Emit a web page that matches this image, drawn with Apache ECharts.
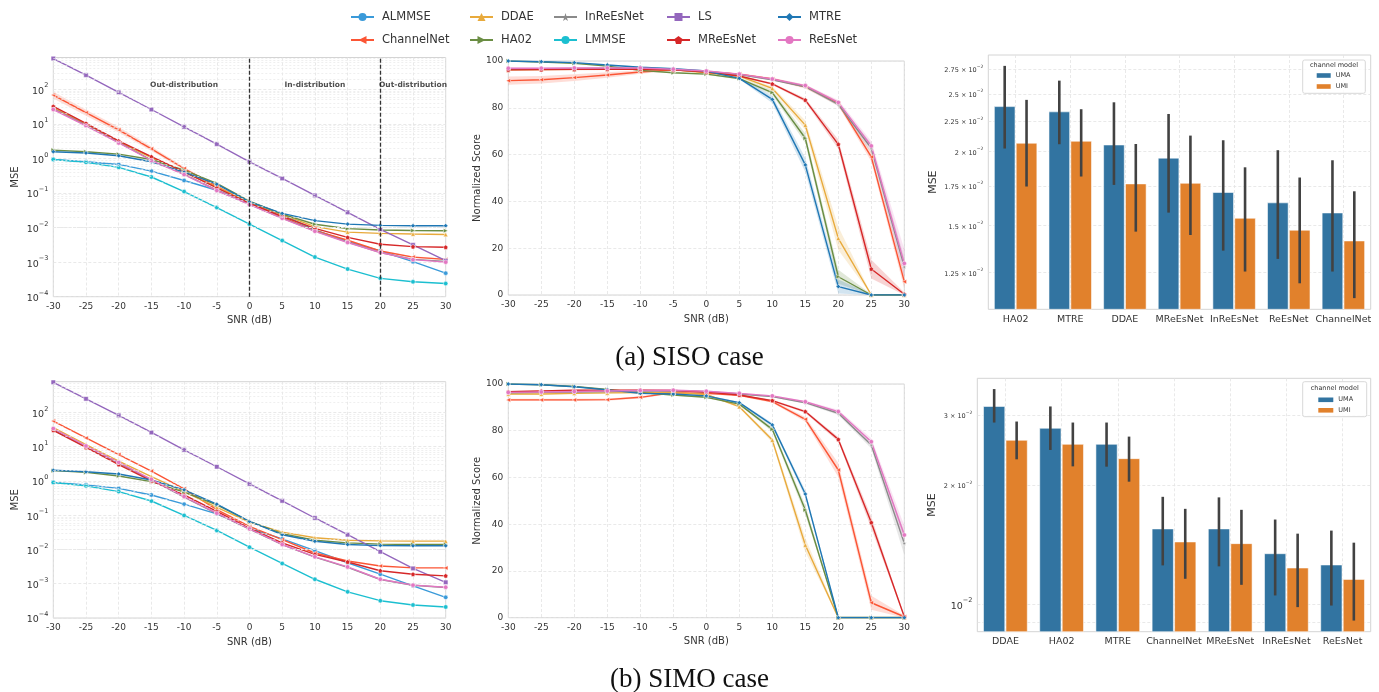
<!DOCTYPE html>
<html>
<head>
<meta charset="utf-8">
<script src="https://cdn.jsdelivr.net/npm/echarts@6/dist/echarts.min.js"></script>
<style>
html, body { margin: 0; background: #fff; }
#main { width: 1379px; height: 692px; }
</style>
</head>
<body>
<div id="main"></div>
<script>
// ---- data ----
const snr = [-30, -25, -20, -15, -10, -5, 0, 5, 10, 15, 20, 25, 30];
const methods = ['ALMMSE', 'ChannelNet', 'DDAE', 'HA02', 'InReEsNet', 'LMMSE', 'LS', 'MReEsNet', 'MTRE', 'ReEsNet'];
const scoreMethods = ['ChannelNet', 'DDAE', 'HA02', 'InReEsNet', 'MReEsNet', 'MTRE', 'ReEsNet'];

// MSE vs SNR, SISO (rows in `methods` order)
const sisoMse = [
  [0.94, 0.80, 0.67, 0.43, 0.23, 0.12, 0.050, 0.0236, 0.0085, 0.0039, 0.0021, 0.00103, 0.00048], // ALMMSE
  [68, 21, 6.7, 1.9, 0.51, 0.155, 0.052, 0.0197, 0.0082, 0.0043, 0.0021, 0.0014, 0.0012],        // ChannelNet
  [29, 9.6, 3.0, 1.05, 0.40, 0.15, 0.054, 0.0236, 0.0106, 0.0074, 0.0068, 0.0065, 0.0063],       // DDAE
  [1.74, 1.56, 1.33, 0.93, 0.46, 0.19, 0.058, 0.0245, 0.0125, 0.0093, 0.0085, 0.0082, 0.0081],   // HA02
  [27, 9.2, 2.9, 0.90, 0.35, 0.12, 0.047, 0.0188, 0.0080, 0.0038, 0.0019, 0.0012, 0.00105],      // InReEsNet
  [0.93, 0.77, 0.55, 0.29, 0.11, 0.038, 0.0125, 0.0042, 0.0014, 0.00063, 0.00034, 0.00027, 0.00024], // LMMSE
  [776, 257, 81, 26, 8.2, 2.6, 0.80, 0.264, 0.085, 0.0275, 0.0089, 0.00315, 0.0011],             // LS
  [32, 10.3, 3.2, 1.12, 0.41, 0.14, 0.050, 0.021, 0.0095, 0.0052, 0.0033, 0.0028, 0.0027],       // MReEsNet
  [1.56, 1.43, 1.19, 0.80, 0.40, 0.18, 0.055, 0.0257, 0.0159, 0.0126, 0.0116, 0.0113, 0.0113],   // MTRE
  [26, 8.8, 2.8, 0.87, 0.34, 0.118, 0.046, 0.0185, 0.0078, 0.0037, 0.0019, 0.00118, 0.0010]      // ReEsNet
];
// ChannelNet spread (multiplicative) in the SISO MSE panel
const sisoChannelNetSpread = [1.25, 1.22, 1.2, 1.16, 1.1, 1.06, 1.03, 1.03, 1.03, 1.04, 1.05, 1.06, 1.06];

// MSE vs SNR, SIMO
const simoMse = [
  [0.91, 0.77, 0.61, 0.39, 0.21, 0.11, 0.042, 0.0204, 0.0093, 0.0041, 0.0019, 0.00087, 0.0004],
  [56, 18, 5.9, 1.95, 0.59, 0.145, 0.047, 0.0195, 0.0079, 0.0046, 0.0033, 0.0029, 0.0029],
  [36, 11.6, 3.8, 1.34, 0.49, 0.17, 0.063, 0.032, 0.022, 0.0186, 0.0178, 0.0175, 0.0175],
  [2.0, 1.78, 1.4, 0.96, 0.47, 0.20, 0.066, 0.029, 0.0186, 0.0156, 0.0143, 0.014, 0.014],
  [31, 10, 3.3, 1.08, 0.34, 0.112, 0.039, 0.0138, 0.0060, 0.0030, 0.00133, 0.0009, 0.00078],
  [0.90, 0.72, 0.49, 0.26, 0.099, 0.036, 0.0117, 0.0039, 0.00135, 0.00058, 0.00032, 0.00024, 0.00021],
  [760, 250, 82, 26, 8.1, 2.6, 0.82, 0.263, 0.083, 0.027, 0.0086, 0.0028, 0.0011],
  [30, 9.5, 3.0, 1.0, 0.39, 0.13, 0.042, 0.0156, 0.0072, 0.0043, 0.0024, 0.0019, 0.0017],
  [2.05, 1.86, 1.6, 1.07, 0.55, 0.21, 0.066, 0.027, 0.0174, 0.014, 0.013, 0.0128, 0.0128],
  [34, 10.5, 3.5, 1.12, 0.35, 0.115, 0.040, 0.014, 0.0061, 0.0031, 0.00135, 0.00091, 0.00079]
];

// Normalized score vs SNR (rows in `scoreMethods` order)
const sisoScore = [
  [91.6, 92.0, 92.9, 94.0, 95.3, 96.2, 95.4, 94.4, 92.3, 89.0, 81.9, 59.0, 5.7],   // ChannelNet
  [96.2, 96.3, 96.4, 96.5, 96.5, 96.3, 95.0, 93.5, 88.3, 72.6, 24.2, 0, 0],       // DDAE
  [100, 99.6, 99.0, 97.8, 96.0, 95.0, 94.4, 92.5, 86.5, 67.0, 7.8, 0, 0],         // HA02
  [96.5, 96.6, 96.7, 96.8, 96.8, 96.3, 95.5, 94.2, 92.0, 89.0, 81.5, 62.7, 12.0], // InReEsNet
  [96.2, 96.3, 96.4, 96.5, 96.5, 96.2, 95.3, 93.6, 90.2, 83.3, 64.4, 11.1, 0.3],  // MReEsNet
  [100, 99.7, 99.3, 98.3, 97.3, 96.7, 95.7, 92.6, 83.6, 55.6, 3.6, 0, 0],         // MTRE
  [96.9, 96.9, 97.0, 97.0, 97.0, 96.5, 95.7, 94.4, 92.3, 89.5, 82.3, 63.7, 13.5]  // ReEsNet
];
// half-width of the shaded band around each score line
const sisoSpread = [
  [1.8, 1.6, 1.4, 1.2, 0.8, 0.5, 0.4, 0.4, 0.5, 0.8, 1.0, 2.0, 3.0],
  [0.3, 0.3, 0.3, 0.3, 0.3, 0.3, 0.3, 0.4, 0.8, 2.0, 5.0, 0.3, 0.3],
  [0.2, 0.2, 0.2, 0.2, 0.3, 0.3, 0.3, 0.4, 1.0, 2.0, 3.0, 0.3, 0.3],
  [0.3, 0.3, 0.3, 0.3, 0.3, 0.3, 0.3, 0.3, 0.3, 0.4, 0.8, 2.0, 4.0],
  [0.3, 0.3, 0.3, 0.3, 0.3, 0.3, 0.3, 0.3, 0.5, 0.8, 2.0, 4.0, 0.8],
  [0.2, 0.2, 0.2, 0.2, 0.3, 0.3, 0.3, 0.4, 1.5, 3.0, 3.0, 0.3, 0.3],
  [0.3, 0.3, 0.3, 0.3, 0.3, 0.3, 0.3, 0.3, 0.4, 0.5, 1.0, 2.0, 6.0]
];
const simoScore = [
  [93.2, 93.2, 93.2, 93.3, 94.3, 96.3, 96.0, 95.2, 92.5, 84.9, 63.2, 6.4, 0.4],
  [95.7, 95.7, 96.0, 96.2, 96.3, 96.3, 95.5, 90.3, 76.0, 31.1, 0, 0, 0],
  [100, 99.7, 98.9, 97.7, 96.3, 95.3, 94.3, 91.4, 80.6, 46.1, 0, 0, 0],
  [96.2, 96.4, 96.6, 96.8, 97.0, 97.1, 96.7, 95.7, 94.6, 92.0, 87.5, 73.9, 31.8],
  [96.7, 97.0, 97.3, 97.4, 97.4, 97.2, 96.6, 95.3, 92.9, 88.2, 76.3, 40.7, 0.4],
  [100, 99.7, 98.8, 97.5, 96.0, 95.7, 94.9, 92.0, 82.5, 52.9, 0, 0, 0],
  [96.4, 96.6, 96.8, 97.0, 97.2, 97.3, 96.9, 96.0, 94.9, 92.4, 88.2, 75.3, 35.4]
];
const simoSpread = [
  [0.5, 0.5, 0.5, 0.5, 0.5, 0.4, 0.4, 0.4, 0.5, 1.0, 3.0, 3.0, 0.5],
  [0.3, 0.3, 0.3, 0.3, 0.3, 0.3, 0.3, 0.5, 1.0, 3.0, 0.5, 0.5, 0.5],
  [0.2, 0.2, 0.2, 0.3, 0.3, 0.3, 0.3, 0.4, 1.0, 2.0, 0.7, 0.7, 0.7],
  [0.3, 0.3, 0.3, 0.3, 0.3, 0.3, 0.3, 0.3, 0.3, 0.4, 0.8, 1.5, 5.0],
  [0.3, 0.3, 0.3, 0.3, 0.3, 0.3, 0.3, 0.3, 0.4, 0.6, 1.0, 2.5, 0.5],
  [0.2, 0.2, 0.2, 0.3, 0.3, 0.3, 0.3, 0.4, 0.8, 1.5, 0.5, 0.5, 0.5],
  [0.3, 0.3, 0.3, 0.3, 0.3, 0.3, 0.3, 0.3, 0.3, 0.4, 0.8, 1.5, 4.0]
];

// bar charts: mean MSE per channel model with error bar ends
const sisoCats = ['HA02', 'MTRE', 'DDAE', 'MReEsNet', 'InReEsNet', 'ReEsNet', 'ChannelNet'];
const sisoUma = [0.02379, 0.02331, 0.0205, 0.01948, 0.01705, 0.01638, 0.01575];
const sisoUmaLo = [0.02022, 0.02056, 0.01756, 0.01577, 0.01361, 0.01318, 0.01255];
const sisoUmaHi = [0.02786, 0.02631, 0.02419, 0.02312, 0.02088, 0.02009, 0.01932];
const sisoUmi = [0.02064, 0.0208, 0.01763, 0.01767, 0.01543, 0.01473, 0.01413];
const sisoUmiLo = [0.01745, 0.01814, 0.01465, 0.01446, 0.01255, 0.01199, 0.01132];
const sisoUmiHi = [0.02442, 0.02355, 0.02058, 0.02126, 0.0188, 0.01807, 0.01713];

const simoCats = ['DDAE', 'HA02', 'MTRE', 'ChannelNet', 'MReEsNet', 'InReEsNet', 'ReEsNet'];
const simoUma = [0.03158, 0.02782, 0.02534, 0.01549, 0.01549, 0.01341, 0.01256];
const simoUmaLo = [0.02876, 0.02452, 0.02225, 0.01253, 0.01246, 0.01052, 0.00992];
const simoUmaHi = [0.03494, 0.03158, 0.02876, 0.01867, 0.01861, 0.01636, 0.01534];
const simoUmi = [0.02594, 0.02534, 0.02331, 0.01436, 0.01422, 0.01234, 0.01155];
const simoUmiLo = [0.02322, 0.02229, 0.02039, 0.01159, 0.01119, 0.00983, 0.00909];
const simoUmiHi = [0.02893, 0.02876, 0.0265, 0.01741, 0.01731, 0.01507, 0.0143];

const sisoBarTicks = [0.0125, 0.015, 0.0175, 0.02, 0.0225, 0.025, 0.0275];
const simoBarTicks = [0.01, 0.02, 0.03];
const mseTicks = [1e-4, 1e-3, 1e-2, 1e-1, 1, 10, 100];

// ---- styling ----
const colorOf = {
  ALMMSE: '#3a9ad9', ChannelNet: '#fb5535', DDAE: '#e8aa3c', HA02: '#6a8d43', InReEsNet: '#8a8a8a',
  LMMSE: '#1cbfd0', LS: '#9467bd', MReEsNet: '#d62728', MTRE: '#1f77b4', ReEsNet: '#e377c2'
};
const starPath = 'path://M50,0 L61,35 L98,35 L68,57 L79,91 L50,70 L21,91 L32,57 L2,35 L39,35 Z';
const pentPath = 'path://M50,0 L98,36 L80,95 L20,95 L2,36 Z';
const symbolOf = {
  ALMMSE: 'circle', ChannelNet: 'triangle', DDAE: 'triangle', HA02: 'triangle', InReEsNet: starPath,
  LMMSE: 'circle', LS: 'rect', MReEsNet: pentPath, MTRE: 'diamond', ReEsNet: 'circle'
};
const rotateOf = { ChannelNet: 90, HA02: -90 };
const UMA = '#3274a1', UMI = '#e1812c';
const FONT = 'DejaVu Sans';
const gridLine = { show: true, lineStyle: { color: '#e3e3e3', type: [3, 2], width: 0.8 } };

const grids = [
  { left: 53.3, top: 57.5, width: 392.4, height: 239.2 },   // a: MSE
  { left: 508.3, top: 61, width: 396, height: 234 },        // a: score
  { left: 988.3, top: 55, width: 382.4, height: 254.3 },    // a: bars
  { left: 53.3, top: 381.7, width: 392.4, height: 236.3 },  // b: MSE
  { left: 508.3, top: 384, width: 396, height: 233.7 },     // b: score
  { left: 977.3, top: 378.3, width: 393.4, height: 253.4 }  // b: bars
].map(g => Object.assign({ show: true, borderColor: '#d4d4d4', borderWidth: 1, backgroundColor: '#fff' }, g));

function sup(e) { return String(e).replace('-', '\u2212'); }

function powerLabel(v) {
  const e = Math.round(Math.log10(v));
  return '{b|10}{s|' + sup(e) + '}';
}
function barLabel(v) {
  const e = Math.floor(Math.log10(v) + 1e-9);
  const m = Number((v / Math.pow(10, e)).toFixed(2));
  if (m === 1) return '{B|10}{S|' + sup(e) + '}';
  return '{a|' + m + ' \u00d7 10}{s|' + sup(e) + '}';
}
const powerRich = {
  b: { fontSize: 9.5, color: '#333', lineHeight: 14, verticalAlign: 'bottom', fontFamily: FONT },
  s: { fontSize: 6.5, color: '#333', lineHeight: 9, verticalAlign: 'top', fontFamily: FONT }
};
const barRich = {
  a: { fontSize: 6.5, color: '#333', lineHeight: 10, verticalAlign: 'bottom', fontFamily: FONT },
  s: { fontSize: 4.5, color: '#333', lineHeight: 6, verticalAlign: 'top', fontFamily: FONT },
  B: { fontSize: 9.5, color: '#333', lineHeight: 14, verticalAlign: 'bottom', fontFamily: FONT },
  S: { fontSize: 6.5, color: '#333', lineHeight: 9, verticalAlign: 'top', fontFamily: FONT }
};

function snrAxis(gi) {
  return {
    type: 'value', gridIndex: gi, min: -30, max: 30, interval: 5,
    name: 'SNR (dB)', nameLocation: 'middle', nameGap: 19,
    nameTextStyle: { fontSize: 10, color: '#333', fontFamily: FONT },
    axisLine: { show: false }, axisTick: { show: false },
    axisLabel: { fontSize: 9, color: '#333', margin: 5, fontFamily: FONT },
    splitLine: gridLine
  };
}
function mseAxis(gi, max) {
  return {
    type: 'log', gridIndex: gi, min: 1e-4, max: max, logBase: 10,
    name: 'MSE', nameLocation: 'middle', nameGap: 33,
    nameTextStyle: { fontSize: 10, color: '#333', fontFamily: FONT },
    axisLine: { show: false }, axisTick: { show: false, customValues: mseTicks },
    axisLabel: { customValues: mseTicks, formatter: powerLabel, rich: powerRich, margin: 5 },
    splitLine: gridLine
  };
}
function scoreAxis(gi) {
  return {
    type: 'value', gridIndex: gi, min: 0, max: 100, interval: 20,
    name: 'Normalized Score', nameLocation: 'middle', nameGap: 24,
    nameTextStyle: { fontSize: 10, color: '#333', fontFamily: FONT },
    axisLine: { show: false }, axisTick: { show: false },
    axisLabel: { fontSize: 9, color: '#333', margin: 5, fontFamily: FONT },
    splitLine: gridLine
  };
}
function catAxis(gi, cats) {
  const idx = cats.map((c, i) => i);
  return {
    type: 'value', gridIndex: gi, min: -0.5, max: cats.length - 0.5,
    axisLine: { show: false }, axisTick: { show: false, customValues: idx },
    axisLabel: { customValues: idx, formatter: v => cats[Math.round(v)], fontSize: 9.5, color: '#333', margin: 5, fontFamily: FONT },
    splitLine: gridLine
  };
}
function barAxis(gi, min, max, labelTicks, lineTicks, gap) {
  return {
    type: 'log', gridIndex: gi, min: min, max: max,
    name: 'MSE', nameLocation: 'middle', nameGap: gap,
    nameTextStyle: { fontSize: 11, color: '#333', fontFamily: FONT },
    axisLine: { show: false }, axisTick: { show: false, customValues: lineTicks },
    axisLabel: { customValues: labelTicks, formatter: barLabel, rich: barRich, margin: 5 },
    splitLine: gridLine
  };
}

function lineSeries(name, values, gi, extra) {
  return Object.assign({
    name: name, type: 'line', xAxisIndex: gi, yAxisIndex: gi,
    data: snr.map((s, i) => [s, values[i]]),
    symbol: symbolOf[name], symbolSize: 4.5, symbolRotate: rotateOf[name] || 0,
    showAllSymbol: true,
    lineStyle: { width: 1.4, color: colorOf[name] },
    itemStyle: { color: colorOf[name], borderColor: '#fff', borderWidth: 0.5 },
    emphasis: { disabled: true }, silent: true, z: 3
  }, extra || {});
}

// shaded band between lo/hi, one quad per SNR step
function bandSeries(color, lo, hi, gi) {
  const data = [];
  for (let i = 0; i < snr.length - 1; i++) {
    data.push([snr[i], lo[i], hi[i], snr[i + 1], lo[i + 1], hi[i + 1]]);
  }
  return {
    type: 'custom', xAxisIndex: gi, yAxisIndex: gi, silent: true, z: 2,
    data: data,
    renderItem: function (params, api) {
      const a = api.coord([api.value(0), api.value(2)]);
      const b = api.coord([api.value(3), api.value(5)]);
      const c = api.coord([api.value(3), api.value(4)]);
      const d = api.coord([api.value(0), api.value(1)]);
      return { type: 'polygon', shape: { points: [a, b, c, d] }, style: { fill: color, opacity: 0.2 } };
    }
  };
}

function minorLines() {
  const out = [];
  for (let e = -4; e <= 2; e++) {
    for (let m = 2; m <= 9; m++) out.push({ yAxis: m * Math.pow(10, e) });
  }
  return out;
}
const minorMark = {
  silent: true, symbol: ['none', 'none'], label: { show: false },
  lineStyle: { color: '#e8e8e8', type: [2, 2], width: 0.7 },
  data: minorLines(), animation: false
};

function barSeries(name, vals, gi, side, color) {
  return {
    name: name, type: 'custom', xAxisIndex: gi, yAxisIndex: gi, silent: true, z: 3,
    itemStyle: { color: color },
    data: vals.map((v, i) => [i, v]),
    renderItem: function (params, api) {
      const i = api.value(0), v = api.value(1);
      const p = api.coord([i, v]);
      const unit = api.coord([i + 1, v])[0] - p[0];
      const cs = params.coordSys;
      const bw = unit * 0.4;
      const x0 = side < 0 ? p[0] - bw : p[0];
      return {
        type: 'rect',
        shape: { x: x0 + 0.6, y: p[1], width: bw - 1.2, height: cs.y + cs.height - p[1] },
        style: { fill: color, stroke: 'rgba(255,255,255,0.55)', lineWidth: 1 }
      };
    }
  };
}
function errSeries(lo, hi, gi, side) {
  return {
    type: 'custom', xAxisIndex: gi, yAxisIndex: gi, silent: true, z: 5,
    data: lo.map((l, i) => [i, l, hi[i]]),
    renderItem: function (params, api) {
      const i = api.value(0);
      const a = api.coord([i, api.value(1)]);
      const b = api.coord([i, api.value(2)]);
      const unit = api.coord([i + 1, api.value(1)])[0] - a[0];
      const x = a[0] + side * unit * 0.2;
      return { type: 'line', shape: { x1: x, y1: a[1], x2: x, y2: b[1] }, style: { stroke: '#424242', lineWidth: 2.6 } };
    }
  };
}

// ---- series ----
const series = [];
methods.forEach((m, k) => {
  const extraA = {}, extraB = {};
  if (k === 0) { extraA.markLine = minorMark; extraB.markLine = minorMark; }
  if (m === 'LS') {
    extraA.markLine = {
      silent: true, symbol: ['none', 'none'], label: { show: false },
      lineStyle: { color: '#333', type: [4, 2], width: 1.3 },
      data: [{ xAxis: 0 }, { xAxis: 20 }], animation: false
    };
  }
  series.push(lineSeries(m, sisoMse[k], 0, extraA));
  series.push(lineSeries(m, simoMse[k], 3, extraB));
});
const cn = sisoMse[methods.indexOf('ChannelNet')];
series.push(bandSeries(colorOf.ChannelNet,
  cn.map((v, i) => v / sisoChannelNetSpread[i]), cn.map((v, i) => v * sisoChannelNetSpread[i]), 0));

scoreMethods.forEach((m, k) => {
  series.push(bandSeries(colorOf[m],
    sisoScore[k].map((v, i) => Math.max(0, v - sisoSpread[k][i])),
    sisoScore[k].map((v, i) => Math.min(100, v + sisoSpread[k][i])), 1));
  series.push(bandSeries(colorOf[m],
    simoScore[k].map((v, i) => Math.max(0, v - simoSpread[k][i])),
    simoScore[k].map((v, i) => Math.min(100, v + simoSpread[k][i])), 4));
  series.push(lineSeries(m, sisoScore[k], 1));
  series.push(lineSeries(m, simoScore[k], 4));
});
// region annotations in the SISO MSE panel
series.push({
  type: 'scatter', xAxisIndex: 0, yAxisIndex: 0, silent: true, z: 6,
  symbolSize: 1, itemStyle: { color: 'transparent' },
  data: [[-10, 132, 'Out-distribution'], [10, 132, 'In-distribution'], [25, 132, 'Out-distribution']],
  label: { show: true, position: 'inside', formatter: p => p.data[2], fontSize: 7.5, fontWeight: 'bold', color: '#222', fontFamily: FONT }
});
series.push(barSeries('UMA', sisoUma, 2, -1, UMA));
series.push(barSeries('UMI', sisoUmi, 2, 1, UMI));
series.push(errSeries(sisoUmaLo, sisoUmaHi, 2, -1));
series.push(errSeries(sisoUmiLo, sisoUmiHi, 2, 1));
series.push(barSeries('UMA', simoUma, 5, -1, UMA));
series.push(barSeries('UMI', simoUmi, 5, 1, UMI));
series.push(errSeries(simoUmaLo, simoUmaHi, 5, -1));
series.push(errSeries(simoUmiLo, simoUmiHi, 5, 1));

// ---- legends ----
const legendCols = [350, 469, 553, 666, 777];
const legends = legendCols.map((x, c) => ({
  orient: 'vertical', left: x, top: 10, padding: 0,
  data: [methods[2 * c], methods[2 * c + 1]],
  itemWidth: 23, itemHeight: 10, itemGap: 9,
  itemStyle: { borderWidth: 0 },
  textStyle: { fontSize: 11.5, color: '#333', fontFamily: FONT, lineHeight: 14, padding: [0, 0, 0, 3] },
  selectedMode: false
}));
legends.push({
  orient: 'vertical', left: 1316.7, top: 71, padding: 0, z: 21,
  data: ['UMA', 'UMI'], icon: 'rect', itemWidth: 14, itemHeight: 4.6, itemGap: 2,
  textStyle: { fontSize: 6.5, color: '#333', fontFamily: FONT, lineHeight: 9 }, selectedMode: false
});
legends.push({
  orient: 'vertical', left: 1318.3, top: 395.3, padding: 0, z: 21,
  data: ['UMA', 'UMI'], icon: 'rect', itemWidth: 15, itemHeight: 4.6, itemGap: 1.5,
  textStyle: { fontSize: 6.5, color: '#333', fontFamily: FONT, lineHeight: 9 }, selectedMode: false
});

const option = {
  animation: false,
  backgroundColor: '#fff',
  textStyle: { fontFamily: FONT },
  title: [
    { text: '(a) SISO case', left: 'center', top: 344, padding: 0,
      textStyle: { fontFamily: 'Liberation Serif', fontSize: 27, fontWeight: 'normal', color: '#111' } },
    { text: '(b) SIMO case', left: 'center', top: 666, padding: 0,
      textStyle: { fontFamily: 'Liberation Serif', fontSize: 27, fontWeight: 'normal', color: '#111' } }
  ],
  legend: legends,
  grid: grids,
  xAxis: [snrAxis(0), snrAxis(1), catAxis(2, sisoCats), snrAxis(3), snrAxis(4), catAxis(5, simoCats)],
  yAxis: [
    mseAxis(0, 830), scoreAxis(1), barAxis(2, 0.01084, 0.02906, sisoBarTicks, sisoBarTicks, 50),
    mseAxis(3, 790), scoreAxis(4), barAxis(5, 0.00852, 0.0372, simoBarTicks, [0.009].concat(simoBarTicks), 40)
  ],
  graphic: [
    { type: 'rect', z: 20, shape: { x: 1302.7, y: 60, width: 62.6, height: 33.3, r: 2 },
      style: { fill: 'rgba(255,255,255,0.85)', stroke: '#d8d8d8', lineWidth: 1 } },
    { type: 'text', z: 21, x: 1334, y: 65.5,
      style: { text: 'channel model', fontSize: 6.5, fill: '#333', fontFamily: FONT, align: 'center', verticalAlign: 'middle' } },
    { type: 'rect', z: 20, shape: { x: 1302.7, y: 381.7, width: 64, height: 35, r: 2 },
      style: { fill: 'rgba(255,255,255,0.85)', stroke: '#d8d8d8', lineWidth: 1 } },
    { type: 'text', z: 21, x: 1334.7, y: 388.5,
      style: { text: 'channel model', fontSize: 6.5, fill: '#333', fontFamily: FONT, align: 'center', verticalAlign: 'middle' } }
  ],
  series: series
};

const chart = echarts.init(document.getElementById('main'), null, { renderer: 'canvas' });
chart.setOption(option);
</script>
</body>
</html>
